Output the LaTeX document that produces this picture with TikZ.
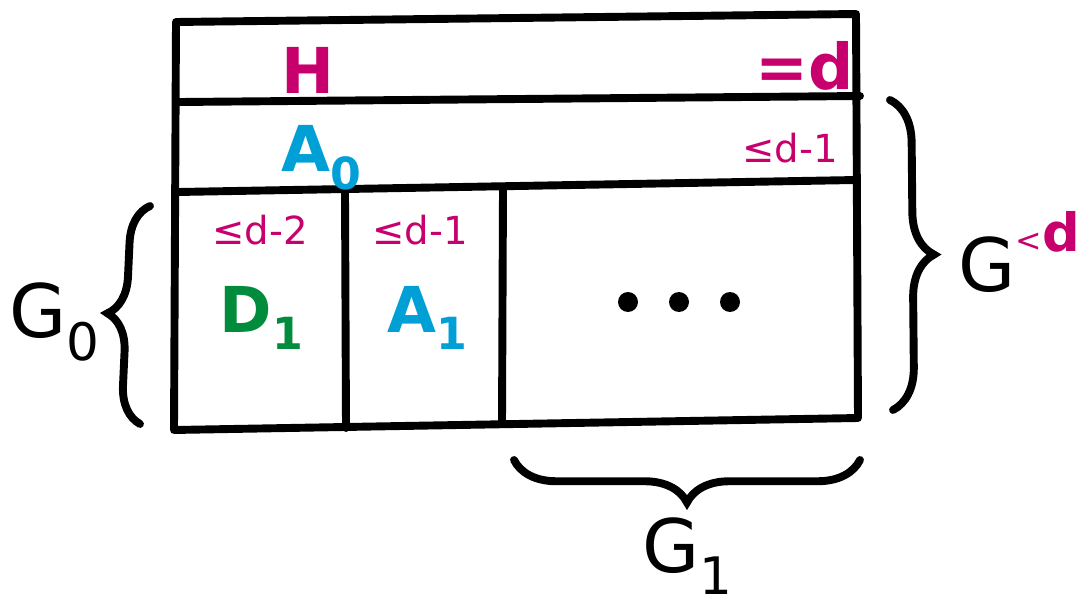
\documentclass[tikz,border=0pt]{standalone}
\usepackage{fontspec}
\setmainfont{DejaVu Sans}
\usetikzlibrary{decorations.pathreplacing, positioning}
\usepackage{xcolor}
\definecolor{degpink}{RGB}{200,0,110}
\definecolor{subblue}{RGB}{0,160,215}
\definecolor{subgreen}{RGB}{0,140,60}

\begin{document}
\begin{tikzpicture}[
    x=0.02cm, y=0.02cm,
    wall/.style={line width=4.5pt, line cap=round, line join=round},
    brc/.style={line width=4.5pt, line cap=round, decorate, decoration={brace, amplitude=#1}},
    deg/.style={text=degpink, font=\fontsize{22}{24}\selectfont},
    big/.style={font=\fontsize{36}{40}\selectfont\bfseries},
    grp/.style={font=\fontsize{42}{46}\selectfont, inner sep=0pt}
]
\useasboundingbox (0,0) rectangle (1080,-612);

% Box corners and rows
\coordinate (tl) at (176,-22);
\coordinate (tr) at (856,-14);
\coordinate (bl) at (174,-430);
\coordinate (br) at (858,-418);
\coordinate (hl) at (180,-102);
\coordinate (hr) at (860,-96);
\coordinate (al) at (178,-192);
\coordinate (ar) at (856,-180);
\coordinate (c1t) at (345,-192);
\coordinate (c1b) at (346,-428);
\coordinate (c2t) at (503,-189);
\coordinate (c2b) at (502,-424);

% Box
\draw[wall] (tl) -- (tr) -- (br) -- (bl) -- cycle;
\draw[wall] (hl) -- (hr);
\draw[wall] (al) -- (ar);
\draw[wall] (c1t) -- (c1b);
\draw[wall] (c2t) -- (c2b);

% Labels
\node[big, text=degpink] (hlabel) at (308,-70) {H};
\node[big, text=degpink] (hdeg) at (805,-66) {=d};
\node[big, text=subblue] (azero) at (322,-158) {A\textsubscript{0}};
\node[deg] (azdeg) at (790,-148) {≤d-1};
\node[deg] (donedeg) at (260,-230) {≤d-2};
\node[deg] (aonedeg) at (420,-230) {≤d-1};
\node[big, text=subgreen] (done) at (262,-318) {D\textsubscript{1}};
\node[big, text=subblue] (aone) at (428,-318) {A\textsubscript{1}};
\foreach \x in {628,679,730}
  \fill (\x,-302) circle (10);

% Braces
\coordinate (lbb) at (140,-424);
\coordinate (lbt) at (150,-206);
\coordinate (rbt) at (890,-100);
\coordinate (rbb) at (893,-410);
\coordinate (bbl) at (514,-460);
\coordinate (bbr) at (860,-460);
\draw[brc=0.75cm] (lbb) -- (lbt);
\draw[brc=0.85cm] (rbt) -- (rbb);
\draw[brc=0.85cm] (bbr) -- (bbl);

\node[grp] (gzero) at (55,-322) {G\textsubscript{0}};
\node[grp, anchor=west] (gless) at (958,-252)
  {G\raisebox{0.55em}{\color{degpink}\fontsize{18}{20}\selectfont<\fontsize{30}{32}\selectfont\bfseries d}};
\node[grp] (gone) at (688,-556) {G\textsubscript{1}};

\end{tikzpicture}
\end{document}
